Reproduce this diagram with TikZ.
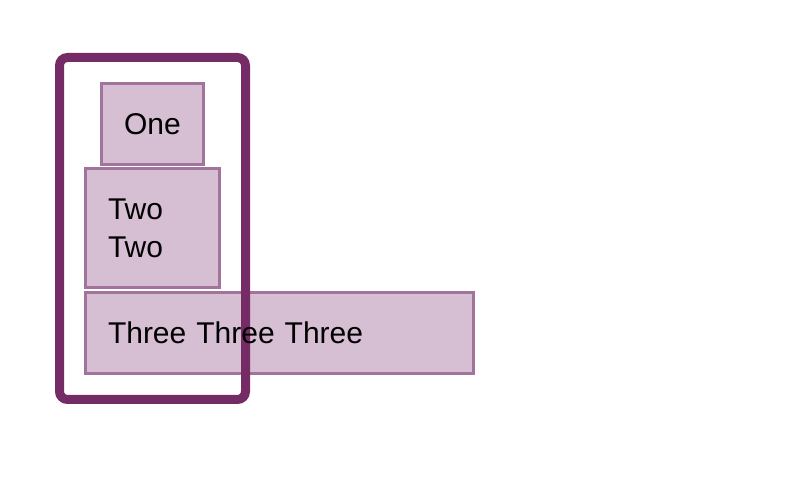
\documentclass[tikz,border=0pt]{standalone}
\usepackage{fontspec}
\setmainfont{Liberation Sans}
\usetikzlibrary{backgrounds}
\definecolor{boxfill}{HTML}{D6BED3}
\definecolor{boxline}{HTML}{A2739B}
\definecolor{frameline}{HTML}{752B66}

\begin{document}
\begin{tikzpicture}[x=0.5pt,y=-0.5pt,
  item/.style={inner xsep=11.25pt,inner ysep=0pt,outer sep=0pt,font=\fontsize{15}{19}\selectfont},
  itembox/.style={boxline,fill=boxfill,line width=1.5pt}]
\useasboundingbox (0,0) rectangle (800,491);

\node[item,minimum width=51pt,minimum height=40.5pt] (one) at (152.5,124) {One};
\node[item,text width=44.5pt,align=left,minimum height=59.5pt] (two) at (152.5,228) {Two\\Two};
\node[item,text width=171.5pt,align=left,minimum height=40.5pt] (three) at (279.5,333) {Three Three Three};

%boxes and the frame go under the text
\begin{pgfonlayer}{background}
\draw[itembox] (one.north west) rectangle (one.south east);
\draw[itembox] (two.north west) rectangle (two.south east);
\draw[itembox] (three.north west) rectangle (three.south east);
\draw[frameline,line width=4.5pt,rounded corners=4pt] (59.5,57.5) rectangle (245.5,399.5);
\end{pgfonlayer}
\end{tikzpicture}
\end{document}
